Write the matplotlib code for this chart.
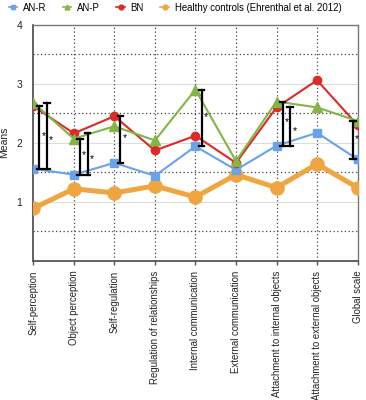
import matplotlib
matplotlib.use("Agg")
import matplotlib.pyplot as plt
from matplotlib.lines import Line2D

plt.rcParams["font.family"] = ["Liberation Sans", "DejaVu Sans"]

categories = [
    "Self-perception", "Object perception", "Self-regulation",
    "Regulation of relationships", "Internal communication",
    "External communication", "Attachment to internal objects",
    "Attachment to external objects", "Global scale",
]
an_r = [1.56, 1.46, 1.66, 1.44, 1.94, 1.54, 1.95, 2.17, 1.72]
an_p = [2.68, 2.07, 2.28, 2.04, 2.90, 1.69, 2.70, 2.60, 2.37]
bn = [2.62, 2.16, 2.45, 1.87, 2.12, 1.66, 2.60, 3.06, 2.30]
healthy = [0.89, 1.22, 1.15, 1.27, 1.08, 1.46, 1.24, 1.64, 1.24]

# significant comparisons against AN-R: (category index, group)
comparisons = [
    (0, "BN"), (0, "AN-P"),
    (1, "AN-P"), (1, "BN"),
    (2, "BN"),
    (4, "AN-P"),
    (6, "AN-P"), (6, "BN"),
    (8, "AN-P"),
]

BLUE = "#69a3ea"
GREEN = "#82b545"
RED = "#dc2a26"
ORANGE = "#f0a640"

fig = plt.figure(figsize=(3.66, 4.0), dpi=100)
ax = fig.add_axes([0.091, 0.348, 0.886, 0.590])

x = list(range(len(categories)))
ax.plot(x, healthy, color=ORANGE, lw=3.6, marker="o", ms=9.5, zorder=3)
ax.plot(x, an_r, color=BLUE, lw=1.5, marker="s", ms=5.5, zorder=4)
ax.plot(x, bn, color=RED, lw=1.5, marker="o", ms=6, zorder=5)
ax.plot(x, an_p, color=GREEN, lw=1.5, marker="^", ms=6.5, zorder=6)

groups = {"AN-P": an_p, "BN": bn}
seen = {}
for idx, grp in comparisons:
    k = seen.get(idx, 0)
    seen[idx] = k + 1
    if idx == len(categories) - 1:
        xb = idx - 0.11 - 0.19 * k
    else:
        xb = idx + 0.15 + 0.19 * k
    top = groups[grp][idx]
    low = an_r[idx]
    ax.plot([xb, xb], [low, top], color="black", lw=1.6, zorder=7)
    for yy in (low, top):
        ax.plot([xb - 0.07, xb + 0.07], [yy, yy], color="black", lw=1.6, zorder=7)
    ax.text(xb + 0.05, (low + top) / 2 + 0.02 - 0.1 * k, "*", fontsize=7.5,
            ha="left", va="center", zorder=8)

ax.set_xlim(0, 8)
ax.set_ylim(0, 4)
ax.set_yticks([1, 2, 3, 4])
ax.tick_params(axis="y", length=0, labelsize=7.5, pad=8, labelcolor="#222222")
ax.set_xticks(x)
ax.set_xticklabels(categories, rotation=90, fontsize=6.9, color="#222222")
ax.tick_params(axis="x", direction="out", length=3, width=1, color="#555555", pad=4)

for v in [1, 2, 3]:
    ax.axhline(v, color="#dddddd", lw=0.8, zorder=0)
for v in [0.5, 1.5, 2.5, 3.5]:
    ax.axhline(v, color="#444444", lw=0.9, ls=(0, (1, 2)), zorder=1)
for v in x[1:-1]:
    ax.axvline(v, color="#444444", lw=0.9, ls=(0, (1, 2)), zorder=1)

for side in ["left", "bottom"]:
    ax.spines[side].set_color("#555555")
    ax.spines[side].set_linewidth(1.3)
for side in ["top", "right"]:
    ax.spines[side].set_color("#777777")
    ax.spines[side].set_linewidth(1.0)

ax.set_ylabel("Means", fontsize=7.5, color="#222222")
ax.yaxis.set_label_coords(-0.075, 0.5)

handles = [
    Line2D([], [], color=BLUE, marker="s", ms=3.5, lw=1.2),
    Line2D([], [], color=GREEN, marker="^", ms=3.5, lw=1.2),
    Line2D([], [], color=RED, marker="o", ms=3.5, lw=1.2),
    Line2D([], [], color=ORANGE, marker="o", ms=3.5, lw=1.2),
]
labels = ["AN-R", "AN-P", "BN", "Healthy controls (Ehrenthal et al. 2012)"]
fig.legend(handles, labels, loc="upper left", bbox_to_anchor=(0.0, 1.015),
           ncol=4, frameon=False, fontsize=6.9, handlelength=0.9,
           handletextpad=0.6, columnspacing=1.7)

fig.savefig("out.png", dpi=100)
